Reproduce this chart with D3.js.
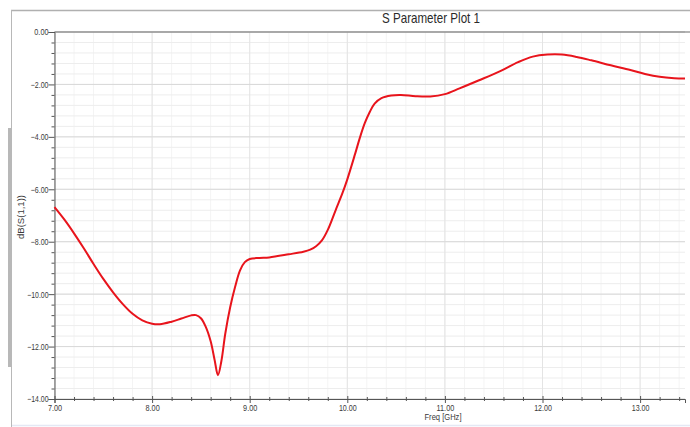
<!DOCTYPE html>
<html>
<head>
<meta charset="utf-8">
<script src="https://cdn.jsdelivr.net/npm/d3@7"></script>
<style>
  html, body { margin: 0; padding: 0; background: #fff; }
  svg { display: block; font-family: "Liberation Sans", Arial, sans-serif; }
</style>
</head>
<body>
<svg id="chart" width="690" height="427"></svg>
<script>
// Return loss of port 1, dB(S(1,1)) versus frequency
const freqGHz = [7.00, 7.10, 7.20, 7.30, 7.40, 7.50, 7.60, 7.70, 7.80, 7.90, 8.00, 8.08, 8.20,
  8.30, 8.40, 8.45, 8.50, 8.55, 8.60, 8.64, 8.675, 8.71, 8.75, 8.80, 8.85, 8.90, 8.95, 9.00, 9.10,
  9.20, 9.40, 9.55, 9.62, 9.68, 9.74, 9.80, 9.88, 9.95, 10.00, 10.08, 10.13, 10.18, 10.23, 10.28,
  10.35, 10.45, 10.55, 10.70, 10.85, 11.00, 11.15, 11.35, 11.55, 11.75, 11.90, 12.05, 12.20, 12.35,
  12.50, 12.70, 12.90, 13.05, 13.20, 13.35, 13.46];
const s11dB = [-6.68, -7.15, -7.68, -8.25, -8.85, -9.42, -9.93, -10.38, -10.75, -11.00, -11.13,
  -11.15, -11.05, -10.93, -10.81, -10.80, -10.92, -11.25, -11.80, -12.50, -13.09, -12.55, -11.50,
  -10.50, -9.73, -9.10, -8.78, -8.66, -8.62, -8.60, -8.48, -8.38, -8.30, -8.17, -7.95, -7.55,
  -6.80, -6.15, -5.62, -4.65, -4.02, -3.47, -3.05, -2.73, -2.52, -2.42, -2.40, -2.45, -2.46, -2.37,
  -2.15, -1.84, -1.52, -1.15, -0.94, -0.86, -0.86, -0.95, -1.08, -1.27, -1.45, -1.60, -1.71, -1.76,
  -1.77];

const yTicks = [0, -2, -4, -6, -8, -10, -12, -14];
const xTicks = [7, 8, 9, 10, 11, 12, 13];
const title = "S Parameter Plot 1";
const xLabel = "Freq [GHz]";
const yLabel = "dB(S(1,1))";

const svg = d3.select("#chart");
const plotL = 54.5, plotR = 685, plotT = 32, plotB = 399;

const x = d3.scaleLinear().domain([7, 13.46]).range([plotL, plotR]);
const y = d3.scaleLinear().domain([-14, 0]).range([plotB, plotT]);

// window frame
svg.append("line").attr("x1", 11).attr("x2", 690).attr("y1", 10.5).attr("y2", 10.5)
  .attr("stroke", "#b0b0b0").attr("stroke-width", 1.5);
svg.append("line").attr("x1", 11.5).attr("x2", 11.5).attr("y1", 10).attr("y2", 427)
  .attr("stroke", "#b8b8b8").attr("stroke-width", 1);
svg.append("rect").attr("x", 8).attr("y", 128).attr("width", 4).attr("height", 239)
  .attr("fill", "#b8b8b8");
svg.append("line").attr("x1", 12).attr("x2", 690).attr("y1", 425.5).attr("y2", 425.5)
  .attr("stroke", "#e4e8f4").attr("stroke-width", 1.5);

// grid: minor then major
const xMinor = d3.range(7, 13.47, 0.2);
const yMinor = d3.range(-14, 0.01, 0.4);
const grid = svg.append("g");
grid.selectAll(".vx").data(xMinor).join("line")
  .attr("x1", d => x(d)).attr("x2", d => x(d)).attr("y1", plotT).attr("y2", plotB)
  .attr("stroke", "#f4f4f4");
grid.selectAll(".hy").data(yMinor).join("line")
  .attr("x1", plotL).attr("x2", plotR).attr("y1", d => y(d)).attr("y2", d => y(d))
  .attr("stroke", "#ededed");
grid.selectAll(".vX").data(xTicks).join("line")
  .attr("x1", d => x(d)).attr("x2", d => x(d)).attr("y1", plotT).attr("y2", plotB)
  .attr("stroke", "#e4e4e4");
grid.selectAll(".hY").data(yTicks).join("line")
  .attr("x1", plotL).attr("x2", plotR).attr("y1", d => y(d)).attr("y2", d => y(d))
  .attr("stroke", "#d9d9d9");

// top border of the plot area
svg.append("line").attr("x1", plotL).attr("x2", plotR + 5).attr("y1", plotT).attr("y2", plotT)
  .attr("stroke", "#6a6a6a").attr("stroke-width", 1.2);

const yAxis = d3.axisLeft(y).tickValues(yTicks).tickSize(6).tickFormat(d3.format(".2f"));
const gy = svg.append("g").attr("transform", `translate(${plotL},0)`).call(yAxis);
gy.select(".domain").attr("stroke", "#555");
gy.selectAll(".tick line").attr("stroke", "#555");
gy.selectAll(".tick text").attr("font-size", 9).attr("fill", "#3a3a3a").attr("x", -6)
  .attr("textLength", function() { return this.textContent.length * 3.55; })
  .attr("lengthAdjust", "spacingAndGlyphs");
const gyMinor = svg.append("g").attr("transform", `translate(${plotL},0)`)
  .call(d3.axisLeft(y).tickValues(yMinor.filter(v => Math.abs(v / 2 - Math.round(v / 2)) > 0.01)).tickSize(3).tickFormat(""));
gyMinor.select(".domain").remove();
gyMinor.selectAll(".tick line").attr("stroke", "#555");

const xAxis = d3.axisBottom(x).tickValues(xTicks).tickSize(4).tickFormat(d3.format(".2f"));
const gx = svg.append("g").attr("transform", `translate(0,${plotB})`).call(xAxis);
gx.select(".domain").attr("stroke", "#555");
gx.selectAll(".tick line").attr("stroke", "#555").attr("y1", -3);
gx.selectAll(".tick text").attr("font-size", 9).attr("fill", "#3a3a3a").attr("y", 6)
  .attr("textLength", function() { return this.textContent.length * 3.55; })
  .attr("lengthAdjust", "spacingAndGlyphs");
const gxMinor = svg.append("g").attr("transform", `translate(0,${plotB})`)
  .call(d3.axisBottom(x).tickValues(xMinor.filter(v => Math.abs(v - Math.round(v)) > 0.01)).tickSize(2).tickFormat(""));
gxMinor.select(".domain").remove();
gxMinor.selectAll(".tick line").attr("stroke", "#555").attr("y1", -2);

// title and axis labels
svg.append("text").attr("x", 382).attr("y", 23).attr("font-size", 15).attr("fill", "#2a2a2a")
  .attr("textLength", 98).attr("lengthAdjust", "spacingAndGlyphs").text(title);
svg.append("text").attr("x", 443).attr("y", 420).attr("text-anchor", "middle")
  .attr("font-size", 9).attr("fill", "#3a3a3a")
  .attr("textLength", 37).attr("lengthAdjust", "spacingAndGlyphs").text(xLabel);
svg.append("text").attr("transform", "translate(24,217) rotate(-90)").attr("text-anchor", "middle")
  .attr("font-size", 9).attr("fill", "#3a3a3a")
  .attr("textLength", 44).attr("lengthAdjust", "spacingAndGlyphs").text(yLabel);

// trace
const pts = freqGHz.map((f, i) => [f, s11dB[i]]);
svg.append("path").datum(pts)
  .attr("fill", "none").attr("stroke", "#e8141c").attr("stroke-width", 2)
  .attr("stroke-linejoin", "round")
  .attr("d", d3.line().x(d => x(d[0])).y(d => y(d[1])).curve(d3.curveCatmullRom.alpha(0.5)));
</script>
</body>
</html>
